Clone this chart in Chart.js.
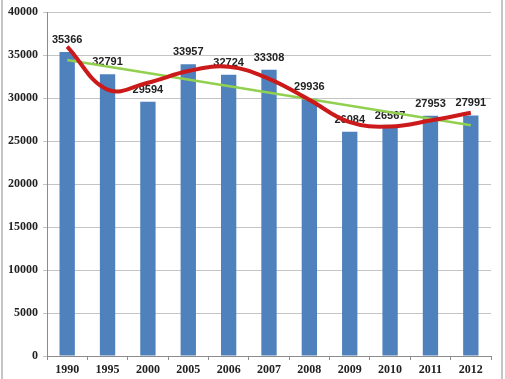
<!DOCTYPE html>
<html>
<head>
<meta charset="utf-8">
<script src="https://cdn.jsdelivr.net/npm/chart.js@4.4.1/dist/chart.umd.min.js"></script>
<style>
  html, body { margin: 0; padding: 0; background: #fff; }
  #wrap { width: 505px; height: 379px; position: relative; }
</style>
</head>
<body>
<div id="wrap"><canvas id="chart" width="505" height="379"></canvas></div>
<script>
const years = ['1990', '1995', '2000', '2005', '2006', '2007', '2008', '2009', '2010', '2011', '2012'];
const values = [35366, 32791, 29594, 33957, 32724, 33308, 29936, 26084, 26567, 27953, 27991];
// polynomial trend (red) at each year
const polyTrend = [36000, 31000, 31800, 33150, 33650, 32250, 29800, 27200, 26700, 27400, 28300];
// linear trend (green): only its two ends, the line between them is straight
const linearTrend = [34450, null, null, null, null, null, null, null, null, null, 26850];
const yTicks = [0, 5000, 10000, 15000, 20000, 25000, 30000, 35000, 40000];

// value labels above the bars, drawn before the trend lines go on top
const barLabels = {
    id: 'barLabels',
    afterDatasetDraw(chart, args) {
        if (args.index !== 0) return;
        const ctx = chart.ctx;
        const meta = chart.getDatasetMeta(0);
        ctx.save();
        ctx.font = 'bold 11px "Liberation Sans", Arial, sans-serif';
        ctx.fillStyle = '#222';
        ctx.textAlign = 'center';
        ctx.textBaseline = 'middle';
        meta.data.forEach((bar, i) => {
            ctx.fillText(String(values[i]), bar.x, bar.y - 12);
        });
        ctx.restore();
    }
};

// thin grey frame at the sides of the picture
const frame = {
    id: 'frame',
    afterDraw(chart) {
        const ctx = chart.ctx;
        ctx.save();
        ctx.strokeStyle = '#b4b4b4';
        ctx.lineWidth = 1.5;
        ctx.beginPath();
        ctx.moveTo(2, 0); ctx.lineTo(2, chart.height);
        ctx.moveTo(502, 0); ctx.lineTo(502, chart.height);
        ctx.stroke();
        ctx.restore();
    }
};

const serifBold = { family: '"Liberation Serif", "Times New Roman", serif', size: 12, weight: 'bold' };

new Chart(document.getElementById('chart'), {
    type: 'bar',
    data: {
        labels: years,
        datasets: [
            {
                type: 'bar',
                data: values,
                backgroundColor: '#4f81bd',
                borderWidth: 0,
                barPercentage: 0.38,
                categoryPercentage: 1,
                order: 3,
            },
            {
                type: 'line',
                data: linearTrend,
                borderColor: '#92d050',
                borderWidth: 2.5,
                pointRadius: 0,
                spanGaps: true,
                fill: false,
                order: 2,
            },
            {
                type: 'line',
                data: polyTrend,
                borderColor: '#cc1a1a',
                borderWidth: 4,
                pointRadius: 0,
                tension: 0.4,
                fill: false,
                order: 1,
            },
        ]
    },
    options: {
        responsive: false,
        animation: false,
        layout: { padding: { top: 8, right: 14, left: 0, bottom: 0 } },
        scales: {
            y: {
                min: 0,
                max: 40000,
                afterBuildTicks: (scale) => { scale.ticks = yTicks.map(v => ({ value: v })); },
                afterFit: (scale) => { scale.width = 47; },
                grid: {
                    color: '#c4c4c4',
                    lineWidth: 1,
                    tickLength: 4,
                },
                border: { color: '#8c8c8c' },
                ticks: {
                    color: '#222',
                    font: serifBold,
                    padding: 5,
                    callback: (value) => String(value),
                },
            },
            x: {
                afterFit: (scale) => { scale.height = 23; },
                grid: {
                    drawOnChartArea: false,
                    color: '#8c8c8c',
                    tickLength: 4,
                },
                border: { color: '#8c8c8c' },
                ticks: {
                    color: '#222',
                    font: serifBold,
                    padding: 3,
                },
            }
        },
        plugins: {
            legend: { display: false },
            tooltip: { enabled: false },
        },
    },
    plugins: [barLabels, frame]
});
</script>
</body>
</html>
